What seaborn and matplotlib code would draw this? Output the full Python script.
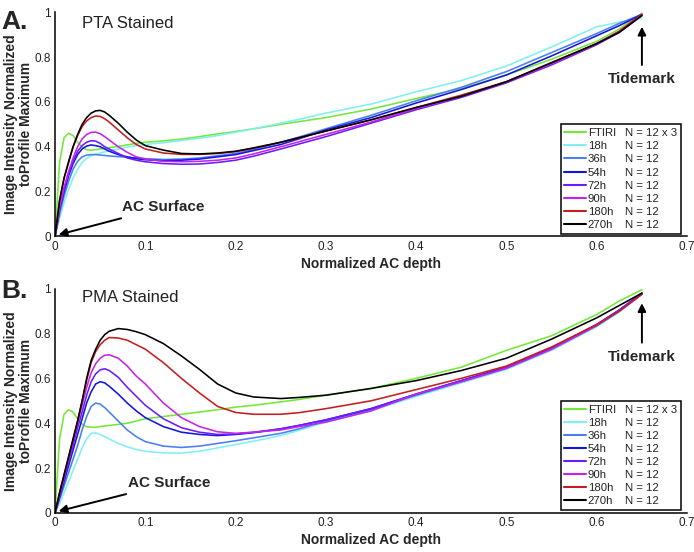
import matplotlib
matplotlib.use("Agg")
import matplotlib.pyplot as plt
from matplotlib.lines import Line2D
import pandas as pd
import seaborn as sns

# normalized AC depth (shared sampling for every profile)
DEPTH = [0, 0.005, 0.01, 0.015, 0.02, 0.025, 0.03, 0.035, 0.04, 0.045, 0.05, 0.055,
         0.06, 0.07, 0.08, 0.09, 0.1, 0.12, 0.14, 0.16, 0.18, 0.2, 0.22, 0.25, 0.27,
         0.3, 0.35, 0.4, 0.45, 0.5, 0.55, 0.6, 0.625, 0.65]

GROUPS = ["FTIRI", "18h", "36h", "54h", "72h", "90h", "180h", "270h"]
N_LABELS = ["N = 12 x 3", "N = 12", "N = 12", "N = 12", "N = 12", "N = 12", "N = 12", "N = 12"]
COLORS = ["#72e83a", "#80f0f2", "#4a7ef2", "#1414e0", "#6a1cff", "#c424e8", "#c41e1e", "#000000"]

# PTA stained profiles
PTA_FTIRI = [0, 0.33, 0.44, 0.46, 0.45, 0.42, 0.40, 0.386, 0.385, 0.387, 0.39, 0.393,
             0.396, 0.402, 0.408, 0.415, 0.42, 0.426, 0.434, 0.445, 0.457, 0.468, 0.48,
             0.50, 0.512, 0.53, 0.568, 0.615, 0.66, 0.72, 0.79, 0.87, 0.925, 0.995]
PTA_18H = [0, 0.08, 0.15, 0.21, 0.26, 0.30, 0.33, 0.348, 0.36, 0.367, 0.372, 0.377,
           0.382, 0.39, 0.398, 0.405, 0.41, 0.418, 0.428, 0.438, 0.45, 0.465, 0.48,
           0.505, 0.522, 0.55, 0.59, 0.645, 0.695, 0.76, 0.845, 0.935, 0.955, 0.975]
PTA_36H = [0, 0.10, 0.18, 0.245, 0.30, 0.335, 0.355, 0.363, 0.365, 0.365, 0.363, 0.361,
           0.359, 0.356, 0.353, 0.35, 0.347, 0.343, 0.345, 0.35, 0.36, 0.37, 0.388,
           0.42, 0.443, 0.48, 0.54, 0.605, 0.665, 0.735, 0.82, 0.905, 0.95, 0.99]
PTA_54H = [0, 0.12, 0.20, 0.27, 0.325, 0.365, 0.39, 0.403, 0.408, 0.405, 0.40, 0.39,
           0.38, 0.365, 0.355, 0.347, 0.342, 0.338, 0.34, 0.345, 0.355, 0.365, 0.383,
           0.41, 0.435, 0.475, 0.53, 0.595, 0.655, 0.72, 0.805, 0.895, 0.94, 0.99]
PTA_72H = [0, 0.12, 0.21, 0.28, 0.335, 0.38, 0.405, 0.42, 0.427, 0.425, 0.415, 0.40,
           0.39, 0.37, 0.35, 0.34, 0.333, 0.325, 0.322, 0.323, 0.33, 0.34, 0.358,
           0.39, 0.412, 0.445, 0.505, 0.565, 0.62, 0.685, 0.765, 0.855, 0.91, 0.985]
PTA_90H = [0, 0.13, 0.22, 0.29, 0.35, 0.40, 0.435, 0.455, 0.464, 0.465, 0.458, 0.445,
           0.43, 0.40, 0.375, 0.355, 0.345, 0.335, 0.333, 0.335, 0.34, 0.35, 0.368,
           0.40, 0.422, 0.455, 0.51, 0.57, 0.625, 0.69, 0.77, 0.86, 0.915, 0.99]
PTA_180H = [0, 0.16, 0.26, 0.335, 0.40, 0.45, 0.49, 0.515, 0.53, 0.537, 0.535, 0.525,
            0.51, 0.475, 0.44, 0.41, 0.39, 0.372, 0.366, 0.366, 0.37, 0.378, 0.393,
            0.42, 0.44, 0.47, 0.52, 0.575, 0.63, 0.69, 0.775, 0.86, 0.915, 0.99]
PTA_270H = [0, 0.16, 0.26, 0.33, 0.40, 0.455, 0.50, 0.53, 0.55, 0.56, 0.562, 0.555,
            0.54, 0.505, 0.465, 0.43, 0.405, 0.385, 0.37, 0.368, 0.372, 0.38, 0.395,
            0.42, 0.44, 0.47, 0.52, 0.575, 0.625, 0.69, 0.775, 0.86, 0.91, 0.985]

# PMA stained profiles
PMA_FTIRI = [0, 0.33, 0.44, 0.46, 0.45, 0.42, 0.395, 0.385, 0.382, 0.382, 0.385, 0.388,
             0.39, 0.395, 0.40, 0.41, 0.42, 0.43, 0.44, 0.45, 0.46, 0.472, 0.48,
             0.495, 0.506, 0.525, 0.555, 0.60, 0.65, 0.725, 0.79, 0.885, 0.945, 0.995]
PMA_18H = [0, 0.04, 0.09, 0.14, 0.19, 0.24, 0.29, 0.33, 0.355, 0.357, 0.35, 0.34,
           0.33, 0.31, 0.295, 0.283, 0.275, 0.268, 0.267, 0.275, 0.29, 0.305, 0.32,
           0.345, 0.368, 0.405, 0.455, 0.52, 0.58, 0.64, 0.725, 0.83, 0.895, 0.975]
PMA_36H = [0, 0.06, 0.12, 0.18, 0.24, 0.30, 0.37, 0.43, 0.475, 0.49, 0.485, 0.47,
           0.45, 0.41, 0.37, 0.34, 0.318, 0.298, 0.292, 0.298, 0.31, 0.322, 0.335,
           0.355, 0.375, 0.41, 0.46, 0.525, 0.585, 0.645, 0.73, 0.835, 0.90, 0.98]
PMA_54H = [0, 0.07, 0.14, 0.21, 0.28, 0.35, 0.42, 0.49, 0.54, 0.575, 0.585, 0.58,
           0.565, 0.53, 0.49, 0.455, 0.425, 0.385, 0.36, 0.35, 0.345, 0.35, 0.358,
           0.375, 0.39, 0.415, 0.465, 0.53, 0.59, 0.65, 0.735, 0.84, 0.905, 0.98]
PMA_72H = [0, 0.08, 0.15, 0.23, 0.30, 0.38, 0.45, 0.525, 0.585, 0.62, 0.638, 0.643,
           0.635, 0.605, 0.56, 0.52, 0.48, 0.42, 0.38, 0.36, 0.35, 0.352, 0.36,
           0.375, 0.39, 0.415, 0.465, 0.53, 0.59, 0.65, 0.735, 0.84, 0.905, 0.98]
PMA_90H = [0, 0.085, 0.165, 0.24, 0.32, 0.40, 0.48, 0.56, 0.625, 0.665, 0.69, 0.703,
           0.705, 0.69, 0.655, 0.61, 0.575, 0.49, 0.425, 0.385, 0.362, 0.355, 0.36,
           0.37, 0.385, 0.405, 0.455, 0.53, 0.585, 0.645, 0.73, 0.835, 0.90, 0.975]
PMA_180H = [0, 0.09, 0.17, 0.25, 0.33, 0.41, 0.50, 0.59, 0.67, 0.72, 0.75, 0.77,
            0.782, 0.78, 0.77, 0.75, 0.73, 0.67, 0.60, 0.535, 0.475, 0.448, 0.44,
            0.44, 0.447, 0.465, 0.50, 0.55, 0.60, 0.655, 0.74, 0.84, 0.90, 0.975]
PMA_270H = [0, 0.09, 0.17, 0.25, 0.33, 0.41, 0.50, 0.60, 0.68, 0.73, 0.77, 0.795,
            0.81, 0.822, 0.818, 0.808, 0.795, 0.755, 0.70, 0.64, 0.575, 0.535, 0.517,
            0.51, 0.515, 0.525, 0.555, 0.59, 0.635, 0.69, 0.775, 0.87, 0.925, 0.98]

PTA = [PTA_FTIRI, PTA_18H, PTA_36H, PTA_54H, PTA_72H, PTA_90H, PTA_180H, PTA_270H]
PMA = [PMA_FTIRI, PMA_18H, PMA_36H, PMA_54H, PMA_72H, PMA_90H, PMA_180H, PMA_270H]


def long_frame(profiles):
    rows = []
    for group, values in zip(GROUPS, profiles):
        for d, v in zip(DEPTH, values):
            rows.append({"depth": d, "intensity": v, "group": group})
    return pd.DataFrame(rows)


def draw_panel(ax, profiles, title, surf_xy, tide_xy):
    df = long_frame(profiles)
    sns.lineplot(data=df, x="depth", y="intensity", hue="group", hue_order=GROUPS,
                 palette=dict(zip(GROUPS, COLORS)), estimator=None, sort=False,
                 linewidth=1.15, legend=False, ax=ax)
    ax.set_xlim(0, 0.7)
    ax.set_ylim(0, 1)
    ax.set_xticks([0, 0.1, 0.2, 0.3, 0.4, 0.5, 0.6, 0.7])
    ax.set_xticklabels(["0", "0.1", "0.2", "0.3", "0.4", "0.5", "0.6", "0.7"])
    ax.set_yticks([0, 0.2, 0.4, 0.6, 0.8, 1])
    ax.set_yticklabels(["0", "0.2", "0.4", "0.6", "0.8", "1"])
    ax.tick_params(direction="in", length=4, width=1, labelsize=8.5, colors="#222222",
                   labelcolor="#222222", pad=3)
    for side in ["top", "right"]:
        ax.spines[side].set_visible(False)
    for side in ["left", "bottom"]:
        ax.spines[side].set_color("black")
        ax.spines[side].set_linewidth(1.1)
    ax.set_xlabel("Normalized AC depth", fontsize=10, fontweight="bold", labelpad=3)
    ax.set_ylabel("Image Intensity Normalized\ntoProfile Maximum", fontsize=10,
                  fontweight="bold", linespacing=1.05, labelpad=1)
    ax.text(0.03, title[1], title[0], fontsize=12, va="center", ha="left", color="#222222")

    ax.annotate("AC Surface", xy=(0.004, 0.008), xytext=surf_xy, fontsize=11,
                fontweight="bold", ha="left", va="center",
                arrowprops=dict(arrowstyle="-|>", color="black", lw=1.4,
                                mutation_scale=12, shrinkA=2, shrinkB=0))
    ax.annotate("Tidemark", xy=(0.65, 0.935), xytext=tide_xy, fontsize=11,
                fontweight="bold", ha="center", va="center",
                arrowprops=dict(arrowstyle="-|>", color="black", lw=1.4,
                                mutation_scale=12, shrinkA=3, shrinkB=0))

    handles = [Line2D([], [], color=c, lw=1.5) for c in COLORS]
    blanks = [Line2D([], [], linestyle="none") for _ in COLORS]
    leg = ax.legend(handles + blanks, GROUPS + N_LABELS, ncol=2, loc="lower right",
                    bbox_to_anchor=(0.99, 0.012), borderaxespad=0, fontsize=8.2,
                    handlelength=1.9, handletextpad=0.15, labelspacing=0.27,
                    columnspacing=-1.3, borderpad=0.35, fancybox=False,
                    framealpha=1, edgecolor="black")
    leg.get_frame().set_linewidth(1.1)
    for t in leg.get_texts():
        t.set_color("#222222")


sns.set_theme(style="white")
plt.rcParams["font.family"] = ["Liberation Sans", "DejaVu Sans"]

fig, (ax_a, ax_b) = plt.subplots(2, 1, figsize=(6.94, 5.52), dpi=100)
fig.subplots_adjust(left=0.0793, right=0.99, top=0.978, bottom=0.0707, hspace=0.2325)

draw_panel(ax_a, PTA, ("PTA Stained", 0.95), (0.074, 0.13), (0.65, 0.70))
draw_panel(ax_b, PMA, ("PMA Stained", 0.96), (0.081, 0.133), (0.65, 0.695))

fig.text(0.002, 1 - 29 / 552, "A.", fontsize=19, fontweight="bold", va="baseline")
fig.text(0.002, 1 - 298 / 552, "B.", fontsize=19, fontweight="bold", va="baseline")

fig.savefig("out.png", dpi=100)
